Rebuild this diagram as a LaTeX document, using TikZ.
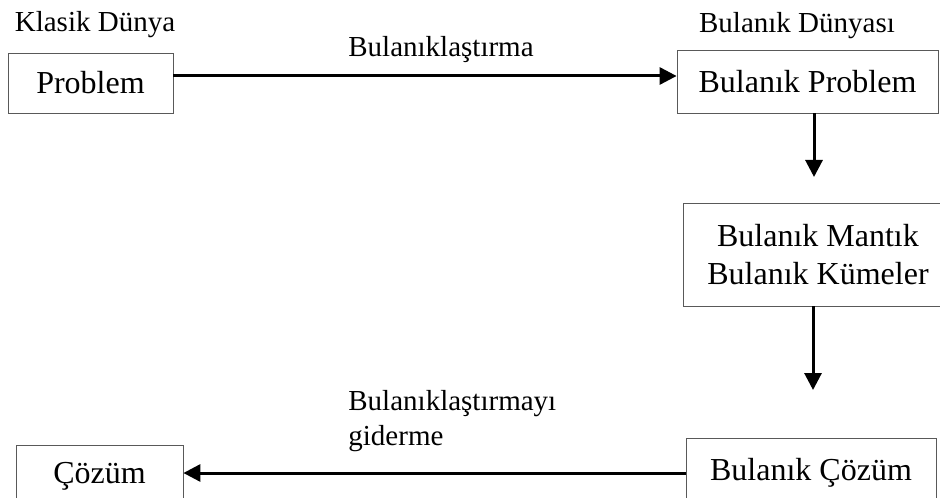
\documentclass[tikz,border=0pt]{standalone}
\usepackage{fontspec}
\setmainfont{Liberation Serif}
\usetikzlibrary{arrows.meta,positioning}

\begin{document}
\begin{tikzpicture}[
    x=0.5pt, y=-0.5pt,
    box/.style={draw=black!65, inner sep=0pt, align=center, font=\fontsize{16}{19}\selectfont},
    tag/.style={anchor=base, inner sep=0pt, font=\fontsize{14.5}{17.5}\selectfont},
    flow/.style={-{Triangle[length=8.5pt, width=8.5pt]}, line width=1.5pt}
]
    \clip (0,0) rectangle (940,497);
    \node[box, minimum width=82.5pt, minimum height=30pt] (prob) at (90.5,83) {Problem};
    \node[box, minimum width=130.5pt, minimum height=31.5pt] (bprob) at (807.5,81.5) {Bulanık Problem};
    \node[box, minimum width=135pt, minimum height=51.5pt] (logic) at (818,254.5) {Bulanık Mantık\\Bulanık Kümeler};
    \node[box, minimum width=125pt, minimum height=35pt] (bsol) at (811,473) {Bulanık Çözüm};
    \node[box, minimum width=83.5pt, minimum height=31pt] (sol) at (99.5,476) {Çözüm};
    \node[tag] (classic) at (95,32) {Klasik Dünya};
    \node[tag] (fuzzyw) at (797,33) {Bulanık Dünyası};
    \node[tag] (fuzzify) at (441,57) {Bulanıklaştırma};
    \node[tag, anchor=base west, align=left] (defuzz) at (348,445) {Bulanıklaştırmayı\\giderme};
    \coordinate (end1) at (814,177);
    \coordinate (end2) at (813,390);
    \draw[flow] ([yshift=3.5pt]prob.east) -- ([yshift=3.5pt]prob.east -| bprob.west);
    \draw[flow] (bprob.south -| end1) -- (end1);
    \draw[flow] (logic.south -| end2) -- (end2);
    \draw[flow] (bsol.west) -- (bsol.west -| sol.east);
\end{tikzpicture}
\end{document}
